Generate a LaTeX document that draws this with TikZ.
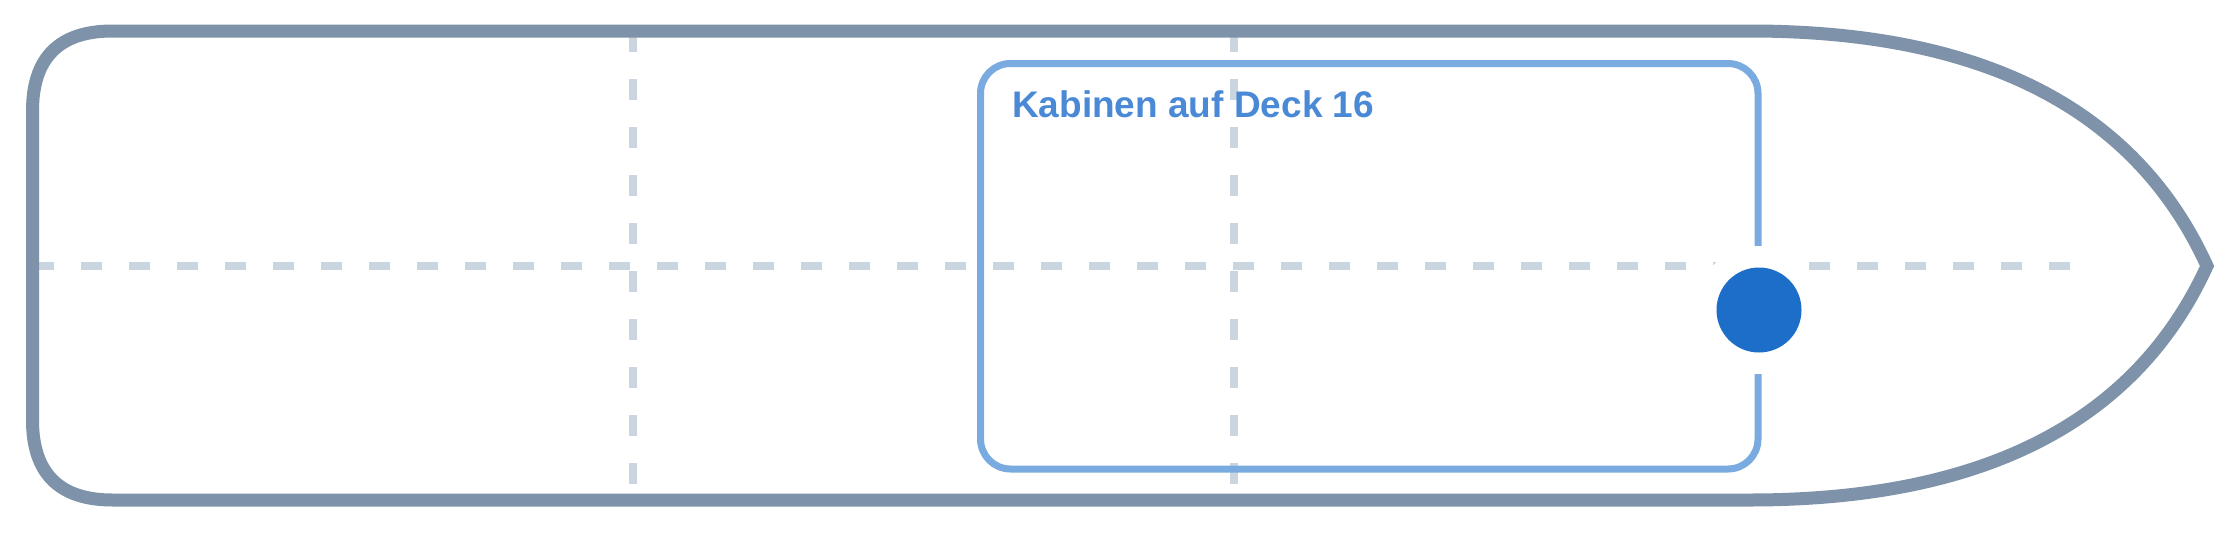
\documentclass[tikz,border=0pt]{standalone}
\usepackage{fontspec}
\setmainfont{Liberation Sans}
\definecolor{hullgray}{HTML}{7E93A9}
\definecolor{linegray}{HTML}{CBD5E0}
\definecolor{deckblue}{HTML}{7AABE0}
\definecolor{labelblue}{HTML}{4A89D5}
\definecolor{dotblue}{HTML}{1D6EC9}

\begin{document}
\begin{tikzpicture}
        [x=1pt, y=-1pt,
        hull/.style={draw=hullgray, line width=13pt},
        gridline/.style={draw=linegray, line width=8pt, dash pattern=on 21pt off 27pt},
        deck/.style={draw=deckblue, line width=7pt, rounded corners=30pt},
        label/.style={text=labelblue, font=\bfseries\fontsize{37}{44}\selectfont, inner sep=0pt, anchor=base west}]

        \useasboundingbox (0,0) rectangle (2240,533);
        \fill[white] (0,0) rectangle (2240,533);

        % dashed grid
        \draw[gridline] (33,266) -- (2070,266);
        \draw[gridline] (633,31) -- (633,500);
        \draw[gridline] (1234,31) -- (1234,500);

        % hull outline
        \draw[hull] (1750,31) -- (112.5,31)
            .. controls (59.2,31) and (32.5,57.7) .. (32.5,111) -- (32.5,420)
            .. controls (32.5,473.3) and (59.2,500) .. (112.5,500) -- (1750,500)
            .. controls (1983.3,500) and (2135.7,422) .. (2207,266)
            .. controls (2135.7,109.3) and (1983.3,31) .. cycle;

        % deck area
        \draw[deck] (980.5,63.5) rectangle (1758,469);
        \node[label] (decklabel) at (1012,117) {Kabinen auf Deck 16};

        % position marker
        \coordinate (pos) at (1759,310);
        \fill[white] (pos) circle[radius=64pt];
        \fill[dotblue] (pos) circle[radius=42.5pt];

    \end{tikzpicture}
\end{document}
